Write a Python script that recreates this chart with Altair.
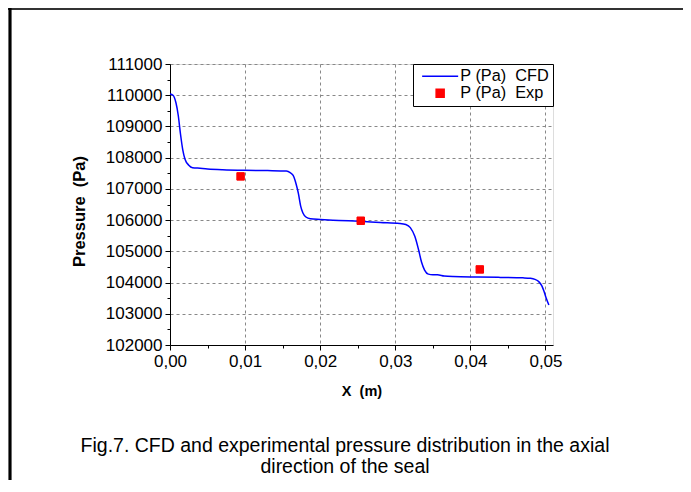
import altair as alt
import pandas as pd

# CFD curve
cfd_x = [0.0000, 0.0004, 0.0008, 0.0011, 0.0014, 0.0017, 0.0020, 0.0025, 0.0030,
         0.0040, 0.0050, 0.0070, 0.0100, 0.0130, 0.0155, 0.0160, 0.0164, 0.0168,
         0.0171, 0.0174, 0.0177, 0.0181, 0.0187, 0.0200, 0.0225, 0.0253, 0.0280,
         0.0306, 0.0314, 0.0320, 0.0326, 0.0331, 0.0335, 0.0339, 0.0344, 0.0350,
         0.0356, 0.0365, 0.0377, 0.0410, 0.0440, 0.0470, 0.0480, 0.0486, 0.0491,
         0.0495, 0.0498, 0.0501, 0.05045]
cfd_p = [110040, 110000, 109750, 109350, 108750, 108250, 107950, 107760, 107680,
         107660, 107640, 107615, 107595, 107585, 107570, 107520, 107430, 107150,
         106850, 106450, 106230, 106100, 106040, 106020, 105990, 105960, 105925,
         105895, 105860, 105760, 105480, 105050, 104650, 104400, 104270, 104250,
         104250, 104210, 104190, 104175, 104165, 104150, 104135, 104100, 104030,
         103900, 103720, 103500, 103280]

# Experimental points
exp_x = [0.0094, 0.0254, 0.04125]
exp_p = [107400, 105980, 104420]

series_names = ["P (Pa)\u00a0\u00a0CFD", "P (Pa)\u00a0\u00a0Exp"]
series_colors = ["#0000FF", "#FF0000"]

x_major = [0.0, 0.01, 0.02, 0.03, 0.04, 0.05]
x_minor = [0.005, 0.015, 0.025, 0.035, 0.045]
y_major = list(range(102000, 111001, 1000))
y_minor = list(range(102500, 111000, 1000))

caption = ["Fig.7. CFD and experimental pressure distribution in the axial",
           "direction of the seal"]

cfd_df = pd.DataFrame({"x": cfd_x, "p": cfd_p, "series": series_names[0]})
exp_df = pd.DataFrame({"x": exp_x, "p": exp_p, "series": series_names[1]})
cap_df = pd.DataFrame({"t": ["\n".join(caption)]})

W, H = 383, 281
PAD = {"left": 162, "top": 56, "right": 130, "bottom": 135}
FONT = "Liberation Sans"

xscale = alt.Scale(domain=[0, 0.051], nice=False, zero=False)
yscale = alt.Scale(domain=[102000, 111000], nice=False, zero=False)

color_scale = alt.Scale(domain=series_names, range=series_colors)
shape_scale = alt.Scale(domain=series_names, range=["M-4.5,0L4.5,0", "square"])

legend = alt.Legend(title=None, orient="top-right", offset=0, padding=4,
                    strokeColor="black", fillColor="white",
                    labelFontSize=16.3, labelFont=FONT, labelColor="black",
                    symbolSize=64, symbolStrokeWidth=1.5, rowPadding=0,
                    symbolOffset=15, labelOffset=12, cornerRadius=0)

x_axis_major = alt.Axis(values=x_major, title="X\u00a0\u00a0(m)", titleFontWeight="bold",
                        titleFontSize=14.5, titleFont=FONT, titleColor="black", titlePadding=15,
                        labelExpr="replace(format(datum.value, '.2f'), '.', ',')",
                        labelFontSize=17, labelFont=FONT, labelColor="black", labelPadding=3,
                        labelFlush=False,
                        grid=True, gridDash=[3, 3], gridColor="#888888", gridWidth=1,
                        domainColor="black", tickColor="black", tickSize=5)
y_axis_major = alt.Axis(values=y_major, title="Pressure\u00a0\u00a0(Pa)", titleFontWeight="bold",
                        titleFontSize=16.5, titleFont=FONT, titleColor="black", titlePadding=18,
                        titleY=147,
                        format="d", labelFontSize=17, labelFont=FONT, labelColor="black",
                        labelPadding=3, labelFlush=False,
                        grid=True, gridDash=[3, 3], gridColor="#888888", gridWidth=1,
                        domainColor="black", tickColor="black", tickSize=5)

x_axis_minor = alt.Axis(values=x_minor, title=None, labels=False, grid=False, domain=False,
                        tickColor="black", tickSize=3, orient="bottom")
y_axis_minor = alt.Axis(values=y_minor, title=None, labels=False, grid=False, domain=False,
                        tickColor="black", tickSize=3, orient="left")

line = alt.Chart(cfd_df).mark_line(strokeWidth=1.5, interpolate="monotone").encode(
    x=alt.X("x:Q", scale=xscale, axis=x_axis_major),
    y=alt.Y("p:Q", scale=yscale, axis=y_axis_major),
    color=alt.Color("series:N", scale=color_scale, legend=legend),
)

points = alt.Chart(exp_df).mark_point(filled=True, size=56, opacity=1, strokeWidth=1).encode(
    x=alt.X("x:Q", scale=xscale, axis=x_axis_minor),
    y=alt.Y("p:Q", scale=yscale, axis=y_axis_minor),
    color=alt.Color("series:N", scale=color_scale, legend=legend),
    shape=alt.Shape("series:N", scale=shape_scale, legend=legend),
    stroke=alt.Stroke("series:N", scale=color_scale, legend=legend),
)

frame_top = alt.Chart(exp_df).mark_rule(color="#333333", strokeWidth=2).encode(
    x=alt.value(-162), x2=alt.value(W + PAD["right"]), y=alt.value(-55))
frame_left = alt.Chart(exp_df).mark_rule(color="black", strokeWidth=2.5).encode(
    x=alt.value(-160), y=alt.value(-56), y2=alt.value(H + PAD["bottom"]))

cap = alt.Chart(cap_df).mark_text(lineBreak="\n", fontSize=19.5, font=FONT, color="black",
                                  align="center", baseline="top", lineHeight=21).encode(
    text="t:N", x=alt.value(175), y=alt.value(373))

chart = alt.layer(line, points, frame_top, frame_left, cap).resolve_axis(
    x="independent", y="independent"
).properties(
    width=W, height=H,
    autosize=alt.AutoSizeParams(type="none"),
    padding=PAD,
).configure_view(stroke="black", strokeWidth=1).configure(background="white")

chart.save("out.html", embed_options={"renderer": "svg", "actions": False})
